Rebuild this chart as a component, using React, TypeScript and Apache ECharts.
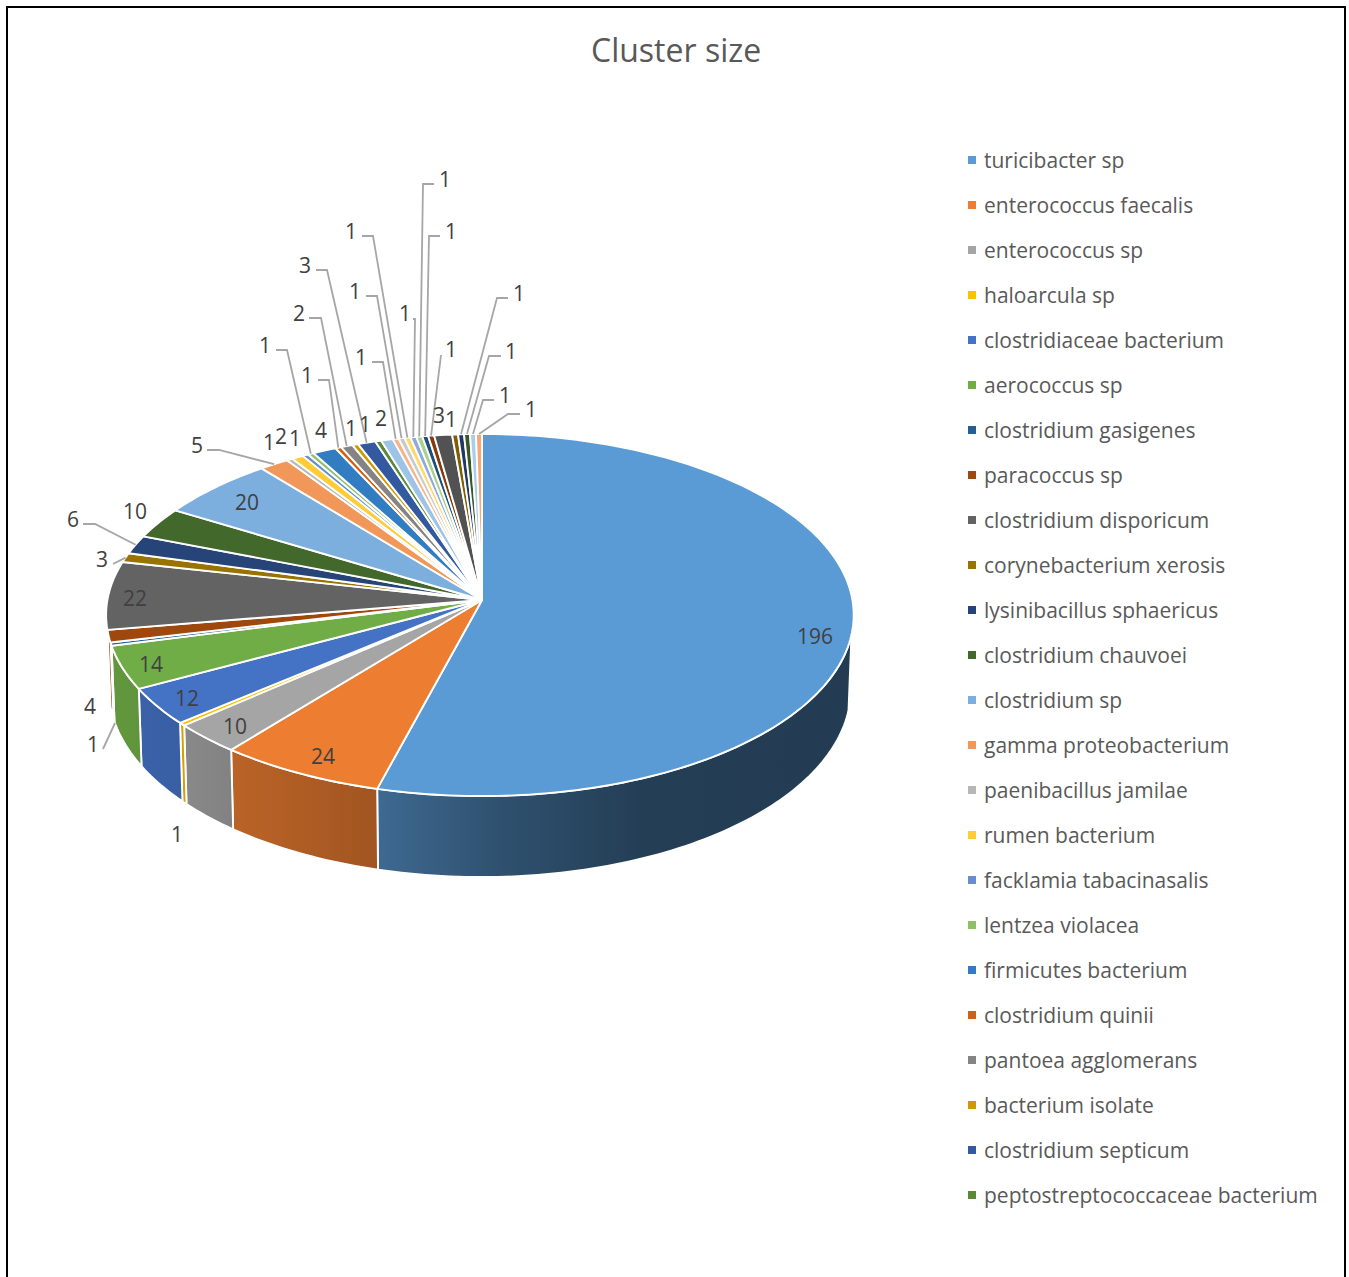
import React, { useEffect, useRef } from "react";
import * as echarts from "echarts";

// Named species shown in the legend, in slice order.
const speciesNames = [
  "turicibacter sp", "enterococcus faecalis", "enterococcus sp", "haloarcula sp",
  "clostridiaceae bacterium", "aerococcus sp", "clostridium gasigenes", "paracoccus sp",
  "clostridium disporicum", "corynebacterium xerosis", "lysinibacillus sphaericus", "clostridium chauvoei",
  "clostridium sp", "gamma proteobacterium", "paenibacillus jamilae", "rumen bacterium",
  "facklamia tabacinasalis", "lentzea violacea", "firmicutes bacterium", "clostridium quinii",
  "pantoea agglomerans", "bacterium isolate", "clostridium septicum", "peptostreptococcaceae bacterium",
];

// Cluster sizes, clockwise from twelve o'clock.
const clusterSizes = [
  196, 24, 10, 1, 12, 14, 1, 4, 22, 3, 6, 10, 20, 5, 1, 2, 1, 1, 4, 1, 2, 1, 3, 1,
  2, 1, 1, 1, 1, 1, 1, 1, 3, 1, 1, 1, 1, 1,
];

// Office theme colours, cycling through its tints and shades.
const sliceColors = [
  "#5B9BD5", "#ED7D31", "#A5A5A5", "#FFC000", "#4472C4", "#70AD47",
  "#255E91", "#9E480E", "#636363", "#997300", "#264478", "#43682B",
  "#7CAFDD", "#F1975A", "#B7B7B7", "#FFCD33", "#698ED0", "#8CC168",
  "#327DC2", "#D26012", "#848484", "#CC9A00", "#335AA1", "#5A8A39",
  "#9DC3E6", "#F6B38A", "#C9C9C9", "#FFD966", "#8FAADC", "#A9D18E",
  "#1F4E79", "#843C0C", "#525252", "#7F6000", "#203864", "#385723",
  "#A9CDEB", "#F4A777",
];

// Where each value label sits, slice by slice.
const labelPositions: [number, number][] = [
  [815, 636], [323, 756], [235, 726], [177, 834], [187, 698], [151, 664], [93, 744], [90, 706],
  [135, 598], [102, 559], [73, 519], [135, 511], [247, 502], [197, 445], [269, 442], [281, 436],
  [295, 438], [265, 345], [321, 430], [307, 375], [299, 313], [351, 428], [305, 265], [365, 424],
  [381, 418], [361, 357], [355, 291], [351, 231], [405, 313], [445, 179], [451, 231], [451, 349],
  [439, 415], [451, 419], [519, 293], [511, 351], [505, 395], [531, 409],
];

// Leader-line bends per slice; the last point is found on the rim from the slice angle.
const leaderBends: Record<number, [number, number][]> = {
  6: [[103, 749], [115, 723]],
  9: [[113, 564]],
  10: [[83, 524], [95, 524]],
  13: [[207, 450], [219, 450]],
  17: [[276, 350], [287, 350]],
  19: [[318, 380], [329, 380]],
  20: [[309, 318], [321, 318]],
  22: [[316, 270], [327, 270]],
  25: [[372, 362], [383, 362]],
  26: [[366, 296], [377, 296]],
  27: [[362, 236], [373, 236]],
  28: [[413, 319], [415, 319]],
  29: [[434, 184], [423, 184]],
  30: [[440, 236], [429, 236]],
  31: [[441, 355]],
  34: [[508, 298], [497, 298]],
  35: [[501, 356], [489, 356]],
  36: [[494, 400], [483, 400]],
  37: [[520, 414], [508, 414]],
};

// This leader disappears behind the wall before it reaches its slice.
const leadersBehindWall = [6];

// Wall brightness by page x: light on the left, falling away to the right.
const wallShade: [number, number][] = [
  [105, 0.88], [185, 0.83], [232, 0.79], [378, 0.68], [500, 0.52], [640, 0.4], [855, 0.39],
];

// Perspective disc: the near rim is stretched and the far rim squeezed.
const CX = 482;
const CY = 600;
const RX_LEFT = 374.6;
const RX_RIGHT = 370.4;
const RY = 179.8;
const PERSP = 0.0829;
const DEPTH = 74.3;
const FLOOR_SCALE = 0.992;
const PAGE_W = 1349;
const PAGE_H = 1277;

const total = clusterSizes.reduce((a, b) => a + b, 0);
const startValues = clusterSizes.map((_, i) =>
  clusterSizes.slice(0, i).reduce((a, b) => a + b, 0),
);

const toAngle = (v: number) => (v / total) * Math.PI * 2;

function rim(angle: number, drop = 0): [number, number] {
  const u = Math.sin(angle);
  const v = -Math.cos(angle);
  const w = 1 - PERSP * v;
  const scale = drop ? FLOOR_SCALE : 1;
  const rx = u > 0 ? RX_RIGHT : RX_LEFT;
  return [CX + (rx * u * scale) / w, CY + (RY * v) / w + drop / w];
}

function arc(a0: number, a1: number, drop = 0): [number, number][] {
  const steps = Math.max(2, Math.ceil((a1 - a0) / 0.02));
  const out: [number, number][] = [];
  for (let i = 0; i <= steps; i++) out.push(rim(a0 + ((a1 - a0) * i) / steps, drop));
  return out;
}

function shaded(hex: string, k: number) {
  const n = parseInt(hex.slice(1), 16);
  const c = [(n >> 16) & 255, (n >> 8) & 255, n & 255].map((x) => Math.round(x * k));
  return `rgb(${c[0]},${c[1]},${c[2]})`;
}

function wallFill(hex: string) {
  return new echarts.graphic.LinearGradient(
    0, 0, PAGE_W, 0,
    wallShade.map(([x, k]) => ({ offset: x / PAGE_W, color: shaded(hex, k) })),
    true,
  );
}

// The walls are only seen between the two turning points of the disc's outline.
const WALL_FROM = Math.acos(-0.19);
const WALL_TO = Math.PI * 2 - Math.acos(-0.16);

function sliceRenderer(index: number) {
  return (_params: any, api: any) => {
    const a0 = toAngle(startValues[index]);
    const a1 = a0 + toAngle(api.value(0));
    const color = sliceColors[index];
    const children: any[] = [];
    const w0 = Math.max(a0, WALL_FROM);
    const w1 = Math.min(a1, WALL_TO);
    if (w1 > w0) {
      children.push({
        type: "polygon",
        shape: { points: [...arc(w0, w1), ...arc(w0, w1, DEPTH).reverse()] },
        style: { fill: wallFill(color), stroke: "#fff", lineWidth: 1.9 },
      });
    }
    children.push({
      type: "polygon",
      shape: { points: [[CX, CY], ...arc(a0, a1)] },
      style: { fill: color, stroke: "#fff", lineWidth: 1.9, lineJoin: "round" },
    });
    return { type: "group", children };
  };
}

function labelRenderer(params: any, api: any) {
  const i = params.dataIndex;
  const children: any[] = [];
  const bends = leaderBends[i];
  if (bends) {
    const mid = toAngle(startValues[i] + clusterSizes[i] / 2);
    const points = leadersBehindWall.includes(i) ? bends : [...bends, rim(mid)];
    children.push({
      type: "polyline",
      shape: { points },
      style: { fill: "none", stroke: "#A6A6A6", lineWidth: 1.8 },
    });
  }
  const [x, y] = labelPositions[i];
  children.push({
    type: "text",
    x,
    y,
    style: {
      text: String(api.value(0)),
      fontFamily: "Open Sans",
      fontSize: 21,
      fill: "#404040",
      align: "center",
      verticalAlign: "middle",
    },
  });
  return { type: "group", children };
}

export default function App() {
  const ref = useRef<HTMLDivElement>(null);
  useEffect(() => {
    const chart = echarts.init(ref.current!, undefined, { renderer: "svg" });
    chart.setOption({
      animation: false,
      backgroundColor: "#fff",
      title: {
        text: "Cluster size",
        left: 586,
        top: 28,
        textStyle: { fontFamily: "Open Sans", fontSize: 32, fontWeight: "normal", color: "#595959" },
      },
      legend: {
        orient: "vertical",
        left: 963,
        top: 143,
        icon: "rect",
        itemWidth: 8,
        itemHeight: 8,
        itemGap: 21,
        selectedMode: false,
        data: speciesNames,
        textStyle: {
          fontFamily: "Open Sans",
          fontSize: 21,
          color: "#595959",
          padding: [0, 0, 0, 3],
          lineHeight: 24,
        },
      },
      graphic: [
        {
          type: "rect",
          silent: true,
          shape: { x: 7, y: 7, width: 1338, height: 1300 },
          style: { fill: "none", stroke: "#000", lineWidth: 2 },
        },
      ],
      series: [
        ...clusterSizes.map((size, i) => ({
          type: "custom",
          name: speciesNames[i] ?? `cluster ${i + 1}`,
          coordinateSystem: "none",
          silent: true,
          itemStyle: { color: sliceColors[i] },
          data: [[size]],
          renderItem: sliceRenderer(i),
        })),
        {
          type: "custom",
          name: "value labels",
          coordinateSystem: "none",
          silent: true,
          z: 5,
          data: clusterSizes.map((s) => [s]),
          renderItem: labelRenderer,
        },
      ],
    });
    return () => chart.dispose();
  }, []);
  return (
    <div
      ref={ref}
      style={{ position: "absolute", left: 0, top: 0, width: PAGE_W, height: PAGE_H }}
    />
  );
}
